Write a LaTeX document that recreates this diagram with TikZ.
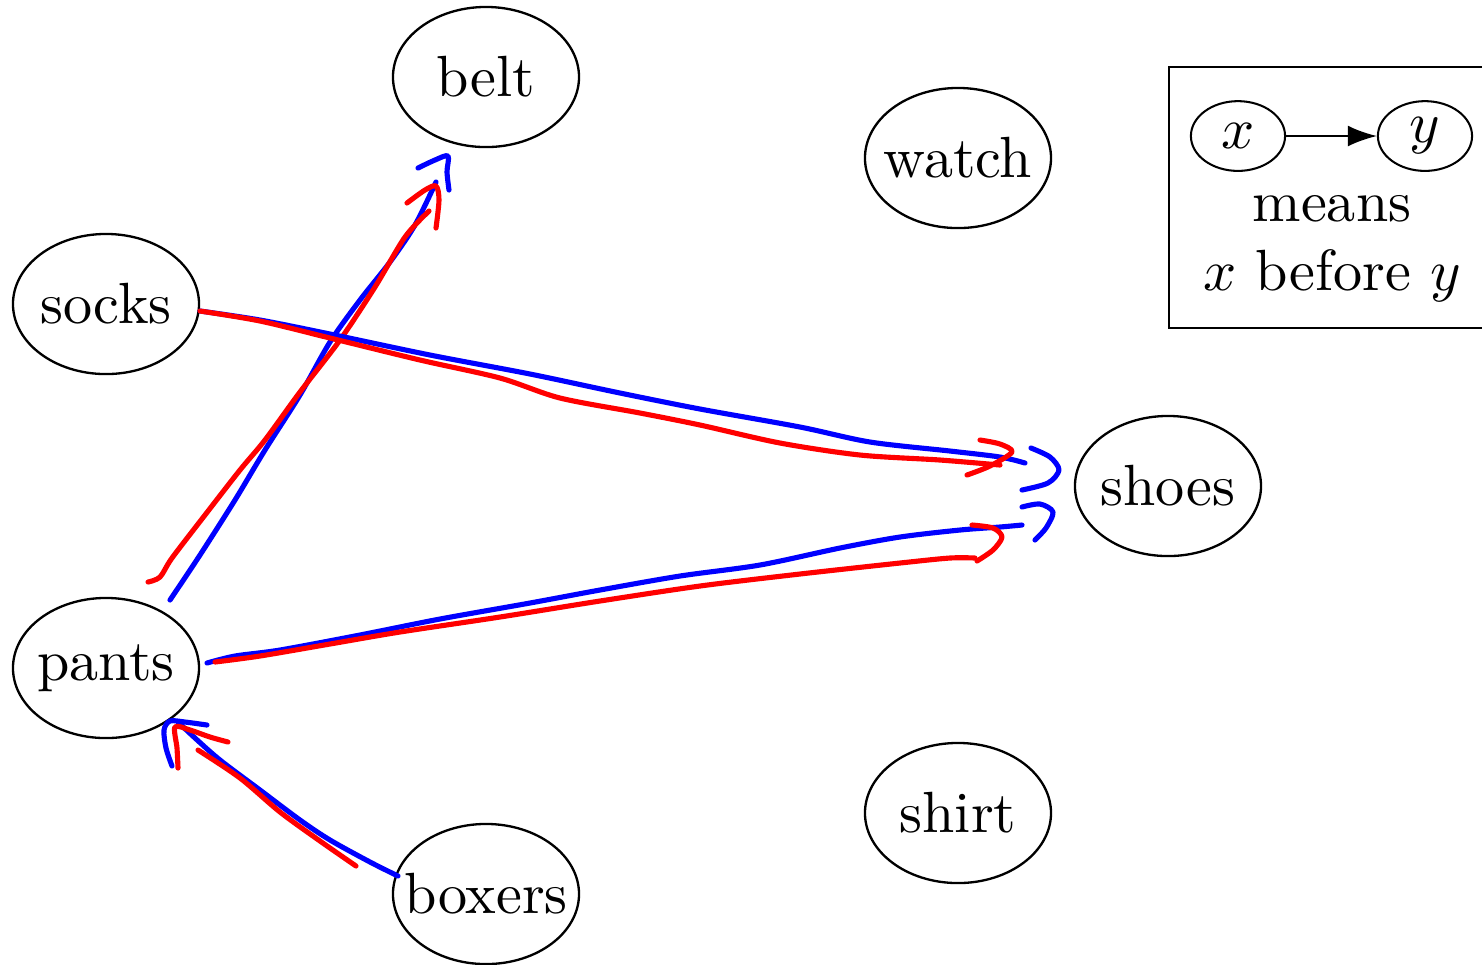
\documentclass[tikz,border=0pt]{standalone}
\usetikzlibrary{shapes.geometric,arrows.meta}
\begin{document}
\begin{tikzpicture}[x=0.172pt,y=-0.172pt,
  v/.style={draw,ellipse,line width=0.4pt,inner sep=0pt,minimum width=32pt,minimum height=24.1pt,
    execute at begin node={\hbox to 0pt\bgroup\hss},execute at end node={\hss\egroup}},
  lv/.style={draw,ellipse,line width=0.35pt,inner sep=0pt,minimum width=16.2pt,minimum height=12pt},
  ink/.style={line width=0.88pt,line cap=round,line join=round}]
\clip (0,0) rectangle (1482,964);
% clothes
\node[v] (belt) at (486,77) {belt};
\node[v] (watch) at (958,158) {watch};
\node[v] (socks) at (106,304) {socks};
\node[v] (shoes) at (1168,486) {shoes};
\node[v] (pants) at (106,668) {pants};
\node[v] (shirt) at (958,813) {shirt};
\node[v] (boxers) at (486,894) {boxers};
% legend
\draw[line width=0.4pt] (1169,67) rectangle (1520,328);
\node[lv] (lx) at (1238,136) {$x$};
\node[lv] (ly) at (1425,136) {$y$};
\draw[line width=0.35pt,-{Latex[length=5pt,width=3.6pt]}] (lx) -- (ly);
\node[anchor=base] (means) at (1332,221) {means};
\node[anchor=base] (bef) at (1332,290) {$x$ before $y$};
% pants -> belt
\draw[ink,blue] plot[smooth] coordinates {(170,600) (200,555) (235,500) (265,450) (300,395) (330,342) (360,300) (390,262) (415,225) (436,182)};
\draw[ink,blue] plot[smooth] coordinates {(418,168) (435,160) (448,156) (447,172) (449,190)};
\draw[ink,red] plot[smooth] coordinates {(148,582) (160,577) (172,558) (205,515) (240,470) (265,440) (300,392) (340,340) (375,287) (405,237) (429,211)};
\draw[ink,red] plot[smooth] coordinates {(407,203) (425,190) (436,186) (439,200) (436,228)};
% socks -> shoes
\draw[ink,blue] plot[smooth] coordinates {(200,311) (260,320) (330,334) (430,355) (530,374) (620,393) (700,409) (800,427) (870,442) (950,451) (1000,457) (1025,463)};
\draw[ink,blue] plot[smooth] coordinates {(1031,448) (1050,457) (1059,470) (1048,483) (1022,490)};
\draw[ink,red] plot[smooth] coordinates {(200,311) (260,321) (330,338) (420,360) (500,378) (560,398) (640,413) (700,425) (780,443) (860,455) (940,460) (1000,465)};
\draw[ink,red] plot[smooth] coordinates {(980,440) (1000,444) (1012,452) (990,466) (967,475)};
% pants -> shoes
\draw[ink,blue] plot[smooth] coordinates {(207,663) (235,656) (280,650) (360,635) (440,619) (530,603) (600,590) (680,576) (760,565) (840,548) (900,537) (960,530) (1000,527) (1022,525)};
\draw[ink,blue] plot[smooth] coordinates {(1022,507) (1040,504) (1053,512) (1046,528) (1035,540)};
\draw[ink,red] plot[smooth] coordinates {(215,662) (260,656) (330,644) (400,632) (500,617) (600,601) (700,586) (800,574) (900,563) (950,558) (975,558)};
\draw[ink,red] plot[smooth] coordinates {(972,525) (993,528) (1002,537) (993,550) (977,561)};
% boxers -> pants
\draw[ink,blue] plot[smooth] coordinates {(398,876) (370,862) (330,840) (300,820) (260,790) (220,760) (195,738) (178,722)};
\draw[ink,blue] plot[smooth] coordinates {(172,766) (166,748) (164,730) (170,721) (185,722) (207,725)};
\draw[ink,red] plot[smooth] coordinates {(356,866) (320,841) (280,812) (240,778) (198,750)};
\draw[ink,red] plot[smooth] coordinates {(178,768) (177,748) (175,727) (190,730) (210,737) (228,742)};
\end{tikzpicture}
\end{document}
